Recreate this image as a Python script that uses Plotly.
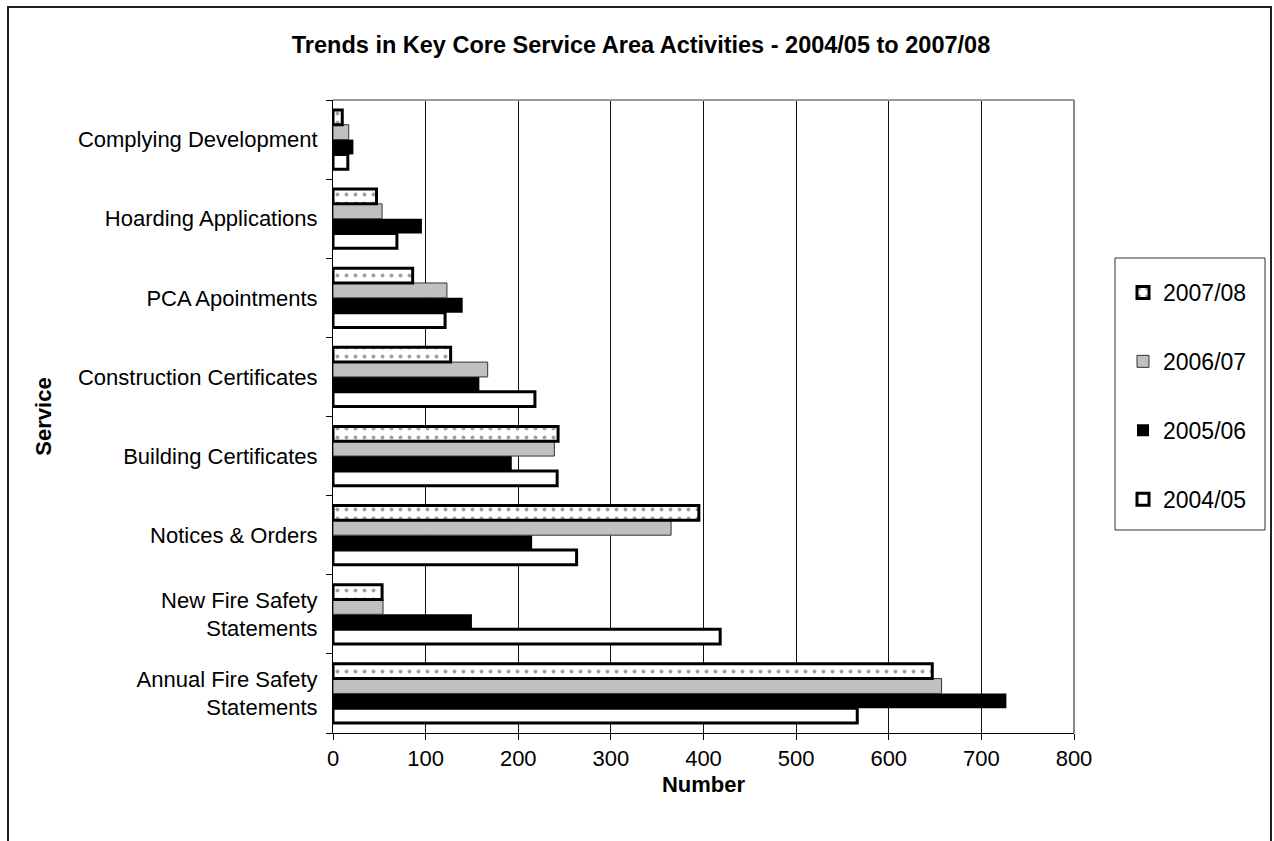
import plotly.graph_objects as go

categories = ["Annual Fire Safety<br>Statements", "New Fire Safety<br>Statements", "Notices & Orders",
              "Building Certificates", "Construction Certificates", "PCA Apointments",
              "Hoarding Applications", "Complying Development"]

v_2004_05 = [566, 418, 263, 242, 218, 121, 69, 16]
v_2005_06 = [727, 150, 215, 193, 158, 140, 96, 22]
v_2006_07 = [657, 54, 365, 239, 167, 123, 53, 17]
v_2007_08 = [647, 53, 395, 243, 127, 86, 47, 10]

x_ticks = [0, 100, 200, 300, 400, 500, 600, 700, 800]

FONT = "Liberation Sans, Arial, sans-serif"
FS = 22

fig = go.Figure()
fig.add_trace(go.Bar(name="2004/05", y=categories, x=v_2004_05, orientation="h",
                     legendgroup="a", legendrank=4,
                     marker=dict(color="white", line=dict(color="black", width=3))))
fig.add_trace(go.Bar(name="2005/06", y=categories, x=v_2005_06, orientation="h",
                     legendgroup="b", legendrank=3,
                     marker=dict(color="black", line=dict(color="black", width=0))))
fig.add_trace(go.Bar(name="2006/07", y=categories, x=v_2006_07, orientation="h",
                     legendgroup="c", legendrank=2,
                     marker=dict(color="#c0c0c0", line=dict(color="#333333", width=1))))
fig.add_trace(go.Bar(name="2007/08", y=categories, x=v_2007_08, orientation="h",
                     legendgroup="d", legendrank=1,
                     marker=dict(color="white", line=dict(color="black", width=3),
                                 pattern=dict(shape=".", bgcolor="white", fgcolor="#444444",
                                              size=9, solidity=0.15))))

W, H = 1274, 841
L, R, T, B = 333, 1074, 100, 733
pw, ph = R - L, B - T

def px(x):
    return (x - L) / pw

def py(y):
    return (B - y) / ph

fig.update_layout(
    width=W, height=H,
    margin=dict(l=L, r=W - R, t=T, b=H - B, autoexpand=False),
    paper_bgcolor="white", plot_bgcolor="white",
    font=dict(family=FONT, size=FS, color="black"),
    barmode="group", bargap=0.25, bargroupgap=0,
    title=dict(text="<b>Trends in Key Core Service Area Activities - 2004/05 to 2007/08</b>",
               x=641 / W, xanchor="center", xref="container",
               y=1 - 45 / H, yanchor="middle", yref="container",
               font=dict(size=23.5, family=FONT)),
    legend=dict(x=px(1123), y=py(271), xanchor="left", yanchor="top",
                borderwidth=0, bgcolor="rgba(0,0,0,0)",
                traceorder="grouped", tracegroupgap=36,
                font=dict(size=23, family=FONT)),
    xaxis=dict(range=[0, 800], tickvals=x_ticks, showgrid=True, gridcolor="#111111", gridwidth=1,
               showline=True, linecolor="black", linewidth=1, ticks="outside", ticklen=6,
               tickcolor="black", zeroline=False, fixedrange=True,
               title=dict(text="<b>Number</b>", standoff=6, font=dict(size=FS))),
    yaxis=dict(type="category", categoryorder="array", categoryarray=categories,
               showline=True, linecolor="black", linewidth=1, ticks="outside", ticklen=6,
               tickcolor="black", tickson="boundaries", showgrid=False, zeroline=False,
               ticklabelstandoff=10,
               title=dict(text="<b>Service</b>", standoff=20, font=dict(size=FS))),
    shapes=[
        dict(type="line", xref="paper", yref="paper", x0=0, x1=1, y0=1, y1=1,
             line=dict(color="#999999", width=2)),
        dict(type="line", xref="paper", yref="paper", x0=1, x1=1, y0=0, y1=1,
             line=dict(color="#888888", width=2)),
        dict(type="rect", xref="paper", yref="paper", x0=px(8), x1=px(1271), y0=py(870), y1=py(7),
             line=dict(color="#222222", width=2), fillcolor="rgba(0,0,0,0)", layer="below"),
        dict(type="rect", xref="paper", yref="paper", x0=px(1115), x1=px(1265), y0=py(530), y1=py(258),
             line=dict(color="#333333", width=1), fillcolor="white", layer="below"),
    ],
)

fig.write_html("out.html")
